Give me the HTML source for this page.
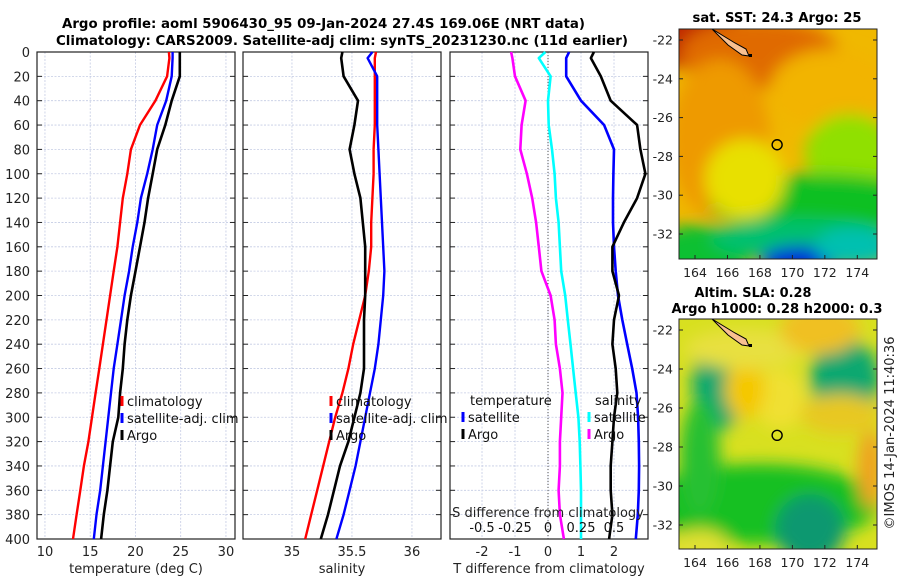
<!DOCTYPE html>
<html><head><meta charset="utf-8"><style>
body{margin:0;background:#fff;}
svg{display:block;font-family:"DejaVu Sans","Liberation Sans",sans-serif;}
</style></head><body>
<svg id="c" width="900" height="580" viewBox="0 0 900 580">
<defs>
<filter id="bl" x="-50%" y="-50%" width="200%" height="200%"><feGaussianBlur stdDeviation="8"/></filter>
<clipPath id="m1"><rect x="679" y="29" width="198" height="230"/></clipPath>
<clipPath id="m2"><rect x="679" y="319" width="198" height="230"/></clipPath>
</defs>
<g id="titles" font-weight="bold" font-size="13" text-anchor="middle" fill="#000">
<text x="323.5" y="28" textLength="523" lengthAdjust="spacingAndGlyphs">Argo profile: aoml 5906430_95 09-Jan-2024 27.4S 169.06E (NRT data)</text>
<text x="342" y="45" textLength="572" lengthAdjust="spacingAndGlyphs">Climatology: CARS2009. Satellite-adj clim: synTS_20231230.nc (11d earlier)</text>
<text x="777" y="22" textLength="169" lengthAdjust="spacingAndGlyphs">sat. SST: 24.3 Argo: 25</text>
<text x="753" y="297" textLength="117" lengthAdjust="spacingAndGlyphs">Altim. SLA: 0.28</text>
<text x="777" y="313" textLength="211" lengthAdjust="spacingAndGlyphs">Argo h1000: 0.28 h2000: 0.3</text>
</g>
<g id="maps"></g>
<g id="panels"></g>
</svg>
<script>
const NS="http://www.w3.org/2000/svg";
const svg=document.getElementById('c');
function mk(tag,attrs,parent){const e=document.createElementNS(NS,tag);for(const k in attrs)e.setAttribute(k,attrs[k]);(parent||svg).appendChild(e);return e;}
function txt(s,attrs,parent){const e=mk('text',attrs,parent);e.textContent=s;return e;}

// ---------- data ----------
const depths=[0,5,20,40,60,80,100,120,140,160,180,200,220,240,260,280,300,320,340,360,380,400];
const depthTicks=[0,20,40,60,80,100,120,140,160,180,200,220,240,260,280,300,320,340,360,380,400];
const tempTicks=[10,15,20,25,30];
const salTicks=[35,35.5,36];
const salTickLabels=["35","35.5","36"];
const tdiffTicks=[-2,-1,0,1,2];
const sdiffTicks=[-0.5,-0.25,0,0.25,0.5];
const sdiffTickLabels=["-0.5","-0.25","0","0.25","0.5"];
const tempClim=[23.7,23.75,23.5,22.2,20.5,19.5,19.1,18.6,18.3,18.0,17.6,17.2,16.8,16.4,16.0,15.6,15.2,14.8,14.3,13.9,13.5,13.1];
const tempSat=[24.1,24.1,24.0,23.4,22.4,21.9,21.3,20.6,20.2,19.7,19.3,18.8,18.4,18.0,17.6,17.3,17.0,16.7,16.4,16.1,15.7,15.4];
const tempArgo=[24.9,24.9,24.9,24.0,23.3,22.4,21.9,21.4,21.0,20.5,20.0,19.5,19.1,18.8,18.6,18.3,18.1,17.5,17.2,16.9,16.5,16.2];
const salClim=[35.70,35.69,35.69,35.69,35.69,35.68,35.68,35.67,35.66,35.66,35.64,35.61,35.56,35.51,35.47,35.42,35.36,35.31,35.26,35.21,35.16,35.11];
const salSat=[35.67,35.63,35.71,35.71,35.71,35.72,35.73,35.74,35.75,35.76,35.77,35.76,35.74,35.72,35.69,35.65,35.61,35.57,35.53,35.48,35.43,35.37];
const salArgo=[35.42,35.41,35.43,35.55,35.52,35.48,35.52,35.57,35.59,35.61,35.61,35.61,35.60,35.60,35.60,35.57,35.52,35.47,35.40,35.35,35.30,35.24];
const tdiffSat=[0.64,0.55,0.55,1.0,1.7,2.0,1.98,1.97,1.97,2.0,2.05,2.12,2.25,2.4,2.55,2.68,2.73,2.75,2.76,2.75,2.72,2.66];
const tdiffArgo=[1.39,1.3,1.6,1.9,2.7,2.8,2.95,2.7,2.3,1.95,1.95,2.15,2.0,1.95,2.05,2.1,2.0,1.95,1.9,1.9,1.95,1.85];
const sdiffSat=[-0.02,-0.07,0.02,0.0,0.005,0.03,0.05,0.06,0.08,0.09,0.10,0.13,0.15,0.17,0.19,0.21,0.23,0.24,0.245,0.25,0.25,0.25];
const sdiffArgo=[-0.28,-0.27,-0.25,-0.17,-0.2,-0.21,-0.16,-0.12,-0.09,-0.07,-0.05,0.02,0.05,0.06,0.09,0.11,0.10,0.09,0.09,0.08,0.09,0.12];

// ---------- axes ----------
const Y0=52,Y1=539;
const yD=d=>Y0+d/400*(Y1-Y0);
const panels=[
 {x0:37,x1:235,vmin:9.12,vmax:31.0,name:'temperature-panel'},
 {x0:243,x1:441,vmin:34.592,vmax:36.242,name:'salinity-panel'},
 {x0:450,x1:648,vmin:-2.97,vmax:3.03,name:'difference-panel'}];
panels.forEach(p=>p.sx=v=>p.x0+(v-p.vmin)/(p.vmax-p.vmin)*(p.x1-p.x0));
const sDiffX=s=>panels[2].sx(s*4);
const G=document.getElementById('panels');

function line(p,xs,ys,color,w,name,xf){
  const f=xf||p.sx;
  const d=xs.map((v,i)=>(i?'L':'M')+f(v).toFixed(1)+' '+yD(ys[i]).toFixed(1)).join(' ');
  const e=mk('path',{d:d,fill:'none',stroke:color,'stroke-width':w,'stroke-linejoin':'round'},G);
  
  
}

panels.forEach((p,pi)=>{
  const g=mk('g',{},G);
  
  
  depthTicks.forEach(d=>{
    const l=mk('line',{x1:p.x0,x2:p.x1,y1:yD(d),y2:yD(d),stroke:'#c4cbe4','stroke-width':0.8,'stroke-dasharray':'2 1.5'},g);
    
    
    const t=mk('line',{x1:p.x0,x2:p.x0+5,y1:yD(d),y2:yD(d),stroke:'#222','stroke-width':1},g);
    
    
    const t2=mk('line',{x1:p.x1-5,x2:p.x1,y1:yD(d),y2:yD(d),stroke:'#222','stroke-width':1},g);
    
    
  });
  const ticks=pi==0?tempTicks:pi==1?salTicks:tdiffTicks;
  const labs=pi==0?tempTicks.map(String):pi==1?salTickLabels:tdiffTicks.map(String);
  ticks.forEach((v,i)=>{
    const x=p.sx(v);
    const l=mk('line',{x1:x,x2:x,y1:Y0,y2:Y1,stroke:'#c4cbe4','stroke-width':0.8,'stroke-dasharray':'2 1.5'},g);
    
    
    const tl=txt(labs[i],{x:x,y:556,'font-size':13,'text-anchor':'middle',fill:'#222'},g);
    
    
  });
  const r=mk('rect',{x:p.x0,y:Y0,width:p.x1-p.x0,height:Y1-Y0,fill:'none',stroke:'#222','stroke-width':1.2},g);
  
  
});
depthTicks.forEach(d=>{
  const t=txt(String(d),{x:30,y:yD(d)+5,'font-size':13,'text-anchor':'end',fill:'#222'},G);
  
  
});
{const x=panels[2].sx(0);const z=mk('line',{x1:x,x2:x,y1:Y0,y2:Y1,stroke:'#555','stroke-width':1,'stroke-dasharray':'1 2'},G);

}

line(panels[0],tempClim,depths,'#ff0000',2.4,'temp-climatology-line');
line(panels[0],tempSat,depths,'#0000ff',2.4,'temp-satellite-line');
line(panels[0],tempArgo,depths,'#000',2.6,'temp-argo-line');
line(panels[1],salClim,depths,'#ff0000',2.4,'sal-climatology-line');
line(panels[1],salArgo,depths,'#000',2.6,'sal-argo-line');
line(panels[1],salSat,depths,'#0000ff',2.4,'sal-satellite-line');
line(panels[2],sdiffArgo,depths,'#ff00ff',2.6,'sdiff-argo-line',sDiffX);
line(panels[2],sdiffSat,depths,'#00ffff',2.6,'sdiff-satellite-line',sDiffX);
line(panels[2],tdiffSat,depths,'#0000ff',2.6,'tdiff-satellite-line');
line(panels[2],tdiffArgo,depths,'#000',2.6,'tdiff-argo-line');

sdiffTicks.forEach((v,i)=>{
  const t=txt(sdiffTickLabels[i],{x:sDiffX(v),y:532,'font-size':13,'text-anchor':'middle',fill:'#111'},G);
  
  
});
const ax=[['temperature (deg C)',136,573,'x-axis-title-temperature'],['salinity',342,573,'x-axis-title-salinity'],['T difference from climatology',549,573,'x-axis-title-tdiff'],['S difference from climatology',548,517,'x-axis-title-sdiff']];
ax.forEach(a=>{const t=txt(a[0],{x:a[1],y:a[2],'font-size':13,'text-anchor':'middle',fill:'#222'},G);

});

function legend(x,y,color,label,name){
  const g=mk('g',{},G);
  
  
  mk('line',{x1:x,x2:x,y1:y-10,y2:y,stroke:color,'stroke-width':3},g);
  txt(label,{x:x+5,y:y,'font-size':13,fill:'#111'},g);
}
legend(122,406,'#ff0000','climatology','legend-climatology');
legend(122,423,'#0000ff','satellite-adj. clim','legend-satellite-adj');
legend(122,440,'#000','Argo','legend-argo');
legend(331,406,'#ff0000','climatology','legend-climatology-sal');
legend(331,423,'#0000ff','satellite-adj. clim','legend-satellite-adj-sal');
legend(331,440,'#000','Argo','legend-argo-sal');
{const t=txt('temperature',{x:470,y:405,'font-size':13,fill:'#111'},G);
const s=txt('salinity',{x:595,y:405,'font-size':13,fill:'#111'},G);}
legend(463,422,'#0000ff','satellite','legend-t-satellite');
legend(463,439,'#000','Argo','legend-t-argo');
legend(589,422,'#00ffff','satellite','legend-s-satellite');
legend(589,439,'#ff00ff','Argo','legend-s-argo');

// ---------- maps ----------
const M=document.getElementById('maps');
const lonTicks=[164,166,168,170,172,174];
const latTicks=[-22,-24,-26,-28,-30,-32];
const lonX=l=>695+(l-164)*16.23;
function mapFrame(top,latY,clip,blobs,base,name){
  const g=mk('g',{},M);
  
  
  const c=mk('g',{'clip-path':'url(#'+clip+')'},g);
  mk('rect',{x:679,y:top,width:198,height:230,fill:base},c);
  const bg=mk('g',{filter:'url(#bl)'},c);
  blobs.forEach(b=>mk('ellipse',{cx:b[0],cy:top+b[1],rx:b[2],ry:b[3],fill:b[4]},bg));
  mk('path',{d:'M712 '+(top+0)+' L735 '+(top+14)+' L746 '+(top+20)+' L749 '+(top+27)+' L742 '+(top+26)+' L728 '+(top+16)+' Z',fill:'#f8c090',stroke:'#000','stroke-width':1},c);
  mk('rect',{x:749,y:top+25,width:3,height:3,fill:'#000'},c);
  mk('circle',{cx:lonX(169.06),cy:latY(-27.4),r:5,fill:'none',stroke:'#000','stroke-width':1.4},g);
  mk('rect',{x:679,y:top,width:198,height:230,fill:'none',stroke:'#222','stroke-width':1},g);
  lonTicks.forEach(l=>{mk('line',{x1:lonX(l),x2:lonX(l),y1:top+230,y2:top+226,stroke:'#222'},g);
    txt(String(l),{x:lonX(l),y:top+248,'font-size':12.5,'text-anchor':'middle',fill:'#222'},g);});
  latTicks.forEach(l=>{mk('line',{x1:679,x2:683,y1:latY(l),y2:latY(l),stroke:'#222'},g);
    mk('line',{x1:873,x2:877,y1:latY(l),y2:latY(l),stroke:'#222'},g);
    txt(String(l),{x:673,y:latY(l)+4.5,'font-size':12.5,'text-anchor':'end',fill:'#222'},g);});
}
mapFrame(29,l=>40+(-22-l)*19.4,'m1',[
 [690,0,50,40,'#c02800'],[760,25,80,35,'#e06a00'],[720,110,50,80,'#ee9a00'],
 [830,60,60,40,'#f2b400'],[850,125,45,40,'#90e000'],[820,175,110,30,'#10c020'],
 [700,225,50,30,'#10c030'],[800,210,90,20,'#00c070'],[800,232,40,15,'#0028d8'],[855,218,40,20,'#00c0b0'],[745,150,40,40,'#e8e000']
],'#f0b800','sst-map');
mapFrame(319,l=>330+(-22-l)*19.5,'m2',[
 [720,65,28,45,'#10a870'],[845,60,35,40,'#08a870'],[760,185,120,40,'#18c020'],
 [700,140,20,60,'#28c030'],[810,210,35,35,'#109870'],[780,80,25,30,'#f0e030'],
 [745,70,20,30,'#f5c800'],[745,30,60,20,'#e8e040'],[870,150,12,40,'#f0a020'],[840,95,40,20,'#e8c820'],[820,10,40,25,'#f0c020'],[700,230,30,20,'#e0e030']
],'#d8e020','sla-map');
{const t=txt('©IMOS 14-Jan-2024 11:40:36',{x:0,y:0,'font-size':13,'text-anchor':'middle',fill:'#222',transform:'translate(894,433) rotate(-90)'},M);
}
</script>
</body></html>
